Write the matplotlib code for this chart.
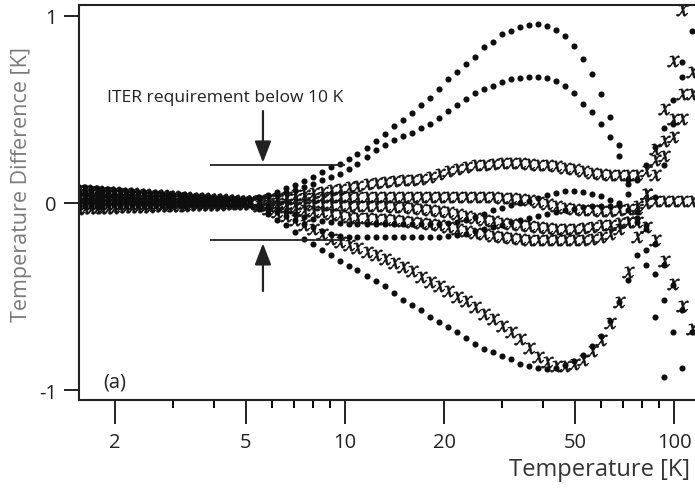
import numpy as np
import matplotlib
matplotlib.use("Agg")
import matplotlib.pyplot as plt
from matplotlib.ticker import FixedLocator, FixedFormatter, NullFormatter

plt.rcParams['font.family'] = ['Open Sans', 'DejaVu Sans']
plt.rcParams['mathtext.fontset'] = 'stix'
plt.rcParams['axes.unicode_minus'] = False

# temperatures [K] of the measurement points
t_low = [1.55, 1.62, 1.69, 1.76, 1.83, 1.91, 1.99, 2.07, 2.16, 2.25,
         2.35, 2.45, 2.55, 2.66, 2.77, 2.89, 3.01, 3.14, 3.27, 3.41,
         3.55, 3.70, 3.86, 4.02, 4.19, 4.37, 4.55, 4.74, 4.94]
t_mid = [5.15, 5.48, 5.84, 6.22, 6.62, 7.05, 7.51, 8.0, 8.52, 9.07,
         9.66, 10.3, 10.9, 11.7, 12.4, 13.2, 14.1, 15.0, 16.0, 17.0,
         18.1, 19.3, 20.6, 21.9, 23.3, 24.8, 26.4, 28.2, 30.0, 32.0,
         34.0, 36.2, 38.6, 41.1, 43.8, 46.6, 49.6, 52.9, 56.3, 60.0,
         63.9, 68.0, 72.4, 77.1, 82.1, 87.5, 93.2, 99.2, 106, 113]
nan = np.nan

# temperature differences [K], dot series
d1 = [0.085, 0.083, 0.080, 0.078, 0.075, 0.073, 0.070, 0.068, 0.065, 0.063,
      0.060, 0.058, 0.055, 0.053, 0.050, 0.048, 0.045, 0.043, 0.040, 0.038,
      0.035, 0.033, 0.030, 0.028, 0.025, 0.023, 0.020, 0.018, 0.015,
      0.020, 0.030, 0.045, 0.060, 0.080, 0.095, 0.115, 0.140, 0.165, 0.190,
      0.210, 0.235, 0.260, 0.295, 0.330, 0.370, 0.410, 0.440, 0.480, 0.520,
      0.560, 0.610, 0.660, 0.700, 0.740, 0.780, 0.830, 0.860, 0.900, 0.920,
      0.940, 0.950, 0.955, 0.945, 0.925, 0.890, 0.840, 0.770, 0.690, 0.580,
      0.460, 0.310, 0.120, -0.100, -0.330, -0.610, -0.930, nan, nan, nan]
d2 = [0.060, 0.058, 0.056, 0.055, 0.053, 0.051, 0.049, 0.047, 0.046, 0.044,
      0.042, 0.040, 0.039, 0.037, 0.035, 0.033, 0.031, 0.030, 0.028, 0.026,
      0.024, 0.023, 0.021, 0.019, 0.017, 0.015, 0.014, 0.012, 0.010,
      0.015, 0.025, 0.035, 0.045, 0.060, 0.070, 0.085, 0.100, 0.120, 0.140,
      0.155, 0.180, 0.210, 0.245, 0.280, 0.310, 0.335, 0.355, 0.375, 0.400,
      0.420, 0.455, 0.490, 0.525, 0.555, 0.585, 0.610, 0.625, 0.645, 0.660,
      0.665, 0.670, 0.670, 0.665, 0.650, 0.625, 0.585, 0.530, 0.485, 0.420,
      0.350, 0.250, 0.100, -0.050, -0.250, -0.380, -0.520, -0.690, -0.880, nan]
d3 = [0.040, 0.039, 0.038, 0.036, 0.035, 0.034, 0.033, 0.031, 0.030, 0.029,
      0.028, 0.026, 0.025, 0.024, 0.023, 0.021, 0.020, 0.019, 0.018, 0.016,
      0.015, 0.014, 0.013, 0.011, 0.010, 0.009, 0.008, 0.006, 0.005,
      0.000, -0.010, -0.020, -0.035, -0.050, -0.060, -0.075, -0.085, -0.095, -0.100,
      -0.105, -0.110, -0.110, -0.110, -0.110, -0.110, -0.110, -0.110, -0.110, -0.110,
      -0.110, -0.110, -0.105, -0.100, -0.090, -0.075, -0.060, -0.040, -0.025, -0.010,
      0.000, 0.010, 0.025, 0.040, 0.055, 0.062, 0.065, 0.060, 0.050, 0.035,
      0.015, -0.010, -0.040, -0.080, -0.140, -0.220, -0.330, -0.440, -0.570, -0.690]
d4 = [0.010, 0.010, 0.009, 0.009, 0.009, 0.008, 0.008, 0.008, 0.007, 0.007,
      0.006, 0.006, 0.006, 0.005, 0.005, 0.005, 0.004, 0.004, 0.004, 0.003,
      0.003, 0.003, 0.002, 0.002, 0.002, 0.001, 0.001, 0.001, 0.000,
      -0.005, -0.020, -0.035, -0.050, -0.070, -0.090, -0.110, -0.130, -0.150, -0.165,
      -0.175, -0.180, -0.180, -0.180, -0.180, -0.180, -0.180, -0.180, -0.180, -0.180,
      -0.180, -0.180, -0.175, -0.170, -0.165, -0.150, -0.140, -0.130, -0.115, -0.100,
      -0.090, -0.080, -0.070, -0.060, -0.050, -0.040, -0.030, -0.020, -0.015, -0.015,
      -0.015, 0.000, 0.050, 0.120, 0.200, 0.300, 0.400, 0.550, 0.750, nan]
d5 = [-0.015, -0.015, -0.014, -0.014, -0.014, -0.013, -0.013, -0.013, -0.012, -0.012,
      -0.011, -0.011, -0.011, -0.010, -0.010, -0.010, -0.009, -0.009, -0.009, -0.008,
      -0.008, -0.008, -0.007, -0.007, -0.007, -0.006, -0.006, -0.006, -0.005,
      -0.010, -0.030, -0.060, -0.090, -0.120, -0.155, -0.190, -0.220, -0.250, -0.280,
      -0.310, -0.335, -0.360, -0.390, -0.415, -0.445, -0.480, -0.515, -0.545, -0.570,
      -0.610, -0.635, -0.660, -0.690, -0.720, -0.750, -0.780, -0.795, -0.815, -0.830,
      -0.860, -0.870, -0.880, -0.885, -0.880, -0.865, -0.845, -0.810, -0.765, -0.710,
      -0.630, -0.530, -0.410, -0.280, -0.120, 0.030, 0.200, 0.420, 0.670, 0.920]

# temperature differences [K], x series
x1 = [0.070, 0.068, 0.066, 0.064, 0.061, 0.059, 0.057, 0.055, 0.053, 0.051,
      0.049, 0.046, 0.044, 0.042, 0.040, 0.038, 0.036, 0.034, 0.031, 0.029,
      0.027, 0.025, 0.023, 0.021, 0.019, 0.016, 0.014, 0.012, 0.010,
      0.010, 0.015, 0.020, 0.025, 0.030, 0.040, 0.045, 0.055, 0.060, 0.070,
      0.075, 0.085, 0.090, 0.100, 0.105, 0.110, 0.115, 0.120, 0.125, 0.130,
      0.140, 0.155, 0.170, 0.180, 0.190, 0.200, 0.205, 0.210, 0.215, 0.215,
      0.215, 0.210, 0.205, 0.200, 0.195, 0.185, 0.180, 0.170, 0.160, 0.155,
      0.150, 0.150, 0.150, 0.150, 0.170, 0.230, 0.330, 0.450, 0.580, 0.700]
x2 = [0.050, 0.049, 0.047, 0.046, 0.044, 0.043, 0.041, 0.040, 0.039, 0.037,
      0.036, 0.034, 0.033, 0.031, 0.030, 0.029, 0.027, 0.026, 0.024, 0.023,
      0.021, 0.020, 0.019, 0.017, 0.016, 0.014, 0.013, 0.011, 0.010,
      0.010, 0.012, 0.015, 0.018, 0.020, 0.022, 0.025, 0.027, 0.030, 0.030,
      0.030, 0.030, 0.030, 0.030, 0.030, 0.030, 0.030, 0.030, 0.030, 0.030,
      0.030, 0.030, 0.030, 0.030, 0.030, 0.030, 0.030, 0.030, 0.028, 0.025,
      0.020, 0.015, 0.005, -0.005, -0.015, -0.025, -0.030, -0.035, -0.040, -0.045,
      -0.045, -0.040, -0.030, -0.015, 0.000, 0.010, 0.010, 0.010, 0.010, 0.010]
x3 = [0.025, 0.024, 0.024, 0.023, 0.022, 0.021, 0.021, 0.020, 0.019, 0.019,
      0.018, 0.017, 0.016, 0.016, 0.015, 0.014, 0.014, 0.013, 0.012, 0.011,
      0.011, 0.010, 0.009, 0.009, 0.008, 0.007, 0.006, 0.006, 0.005,
      0.005, 0.003, 0.000, -0.002, -0.004, -0.006, -0.008, -0.009, -0.010, -0.010,
      -0.012, -0.015, -0.015, -0.016, -0.017, -0.018, -0.019, -0.020, -0.025, -0.030,
      -0.035, -0.042, -0.050, -0.060, -0.070, -0.080, -0.090, -0.098, -0.105, -0.112,
      -0.120, -0.125, -0.130, -0.135, -0.140, -0.140, -0.140, -0.135, -0.130, -0.120,
      -0.115, -0.105, -0.100, -0.100, -0.130, -0.200, -0.310, -0.430, -0.550, -0.670]
x4 = [-0.005, -0.005, -0.005, -0.005, -0.005, -0.004, -0.004, -0.004, -0.004, -0.004,
      -0.003, -0.003, -0.003, -0.003, -0.003, -0.002, -0.002, -0.002, -0.002, -0.002,
      -0.001, -0.001, -0.001, -0.001, -0.001, 0.000, 0.000, 0.000, 0.000,
      0.000, -0.005, -0.010, -0.015, -0.020, -0.028, -0.035, -0.042, -0.050, -0.060,
      -0.065, -0.075, -0.078, -0.082, -0.085, -0.088, -0.090, -0.095, -0.100, -0.105,
      -0.110, -0.120, -0.130, -0.140, -0.150, -0.160, -0.168, -0.175, -0.180, -0.185,
      -0.190, -0.195, -0.198, -0.200, -0.200, -0.200, -0.200, -0.195, -0.190, -0.180,
      -0.165, -0.140, -0.100, -0.030, 0.050, 0.150, 0.250, 0.350, 0.450, 0.580]
x5 = [-0.030, -0.029, -0.028, -0.027, -0.026, -0.026, -0.025, -0.024, -0.023, -0.022,
      -0.021, -0.020, -0.019, -0.018, -0.018, -0.017, -0.016, -0.015, -0.014, -0.013,
      -0.012, -0.011, -0.010, -0.010, -0.009, -0.008, -0.007, -0.006, -0.005,
      -0.005, -0.015, -0.030, -0.050, -0.070, -0.090, -0.115, -0.140, -0.165, -0.190,
      -0.210, -0.225, -0.240, -0.260, -0.280, -0.300, -0.320, -0.340, -0.365, -0.395,
      -0.420, -0.445, -0.470, -0.500, -0.525, -0.555, -0.590, -0.620, -0.655, -0.690,
      -0.725, -0.775, -0.820, -0.850, -0.870, -0.870, -0.860, -0.840, -0.790, -0.730,
      -0.640, -0.530, -0.370, -0.180, 0.050, 0.290, 0.500, 0.760, 1.030, nan]

x_major = [2, 5, 10, 20, 50, 100]
x_minor = [3, 4, 6, 7, 8, 9, 30, 40, 60, 70, 80, 90]
y_major = [-1, 0, 1]

temps = t_low + t_mid

fig = plt.figure(figsize=(6.95, 4.89), dpi=100)
ax = fig.add_axes([0.1137, 0.18, 0.8863, 0.8077])

for series in [x1, x2, x3, x4, x5]:
    ax.plot(temps, series, ls='none', marker='$x$', ms=8.5, color='#151515',
            markeredgewidth=0.5)
for series in [d1, d2, d3, d4, d5]:
    ax.plot(temps, series, ls='none', marker='o', ms=4.4, color='#0d0d0d',
            markeredgewidth=0)

ax.set_xscale('log')
ax.set_xlim(1.554, 115.8)
ax.set_ylim(-1.051, 1.056)

ax.xaxis.set_major_locator(FixedLocator(x_major))
ax.xaxis.set_major_formatter(FixedFormatter([str(v) for v in x_major]))
ax.xaxis.set_minor_locator(FixedLocator(x_minor))
ax.xaxis.set_minor_formatter(NullFormatter())
ax.yaxis.set_major_locator(FixedLocator(y_major))
ax.yaxis.set_major_formatter(FixedFormatter([str(v) for v in y_major]))
ax.yaxis.set_minor_locator(FixedLocator([]))

ax.tick_params(axis='x', which='major', direction='out', length=17, width=1.4,
               pad=6, labelsize=14.5, colors='#222222')
ax.tick_params(axis='x', which='minor', direction='out', length=6, width=1.4)
ax.tick_params(axis='y', which='major', direction='out', length=11, width=1.4,
               pad=5, labelsize=14.5, colors='#222222')
for side in ['left', 'top', 'bottom']:
    ax.spines[side].set_linewidth(1.5)
    ax.spines[side].set_color('#222222')
ax.spines['right'].set_visible(False)

# ITER requirement band and arrows
ax.hlines([0.2, -0.2], 3.89, 10.0, color='#222222', lw=1.3)
arrow = dict(arrowstyle='-|>,head_length=1.3,head_width=0.5', lw=1.6,
             color='#222222', shrinkA=0, shrinkB=0)
ax.annotate('', xy=(5.63, 0.215), xytext=(5.63, 0.49), arrowprops=arrow)
ax.annotate('', xy=(5.63, -0.215), xytext=(5.63, -0.47), arrowprops=arrow)
ax.text(1.89, 0.565, 'ITER requirement below 10 K', fontsize=12.6,
        ha='left', va='center', color='#222222')
ax.text(1.838, -0.95, '(a)', fontsize=14.5, ha='left', va='center',
        color='#222222')

fig.text(22 / 695, 1 - 185 / 489, 'Temperature Difference [K]', rotation=90,
         ha='center', va='center', fontsize=15.5, color='#7a7a7a')
fig.text(690 / 695, 1 - 470 / 489, 'Temperature [K]', ha='right',
         va='center', fontsize=17, color='#333333')

fig.savefig('out.png', dpi=100)
